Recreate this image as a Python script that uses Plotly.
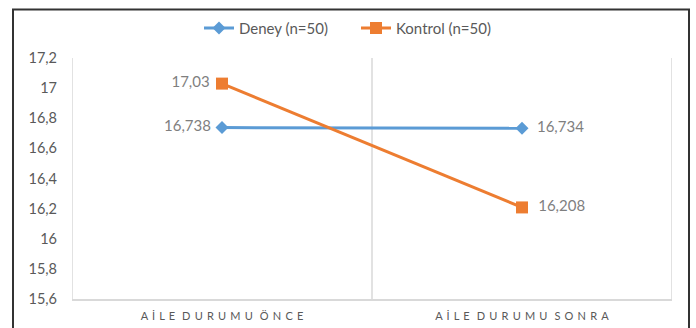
import plotly.graph_objects as go

categories = ["AİLE DURUMU ÖNCE", "AİLE DURUMU SONRA"]
deney = [16.738, 16.734]
kontrol = [17.03, 16.208]
y_ticks = [15.6, 15.8, 16.0, 16.2, 16.4, 16.6, 16.8, 17.0, 17.2]

FONT = "Lato, 'Open Sans', sans-serif"
GREY_TXT = "#595959"
LABEL_TXT = "#7F7F7F"
GRID = "#D9D9D9"
BLUE = "#5B9BD5"
ORANGE = "#ED7D31"
NBSP = "\u00a0"
THIN = "\u2009"


def fmt(v):
    return f"{v:g}".replace(".", ",")


def spaced(s):
    # wide letter spacing for the category labels
    letter_gap = NBSP + THIN
    word_gap = NBSP * 2 + THIN
    return word_gap.join(letter_gap.join(word) for word in s.split(" "))


def point_labels(vals):
    # left point labelled on its left, right point on its right
    return [fmt(vals[0]) + NBSP, NBSP * 2 + fmt(vals[1])]


fig = go.Figure()
fig.add_trace(go.Scatter(
    x=categories, y=deney, name="Deney (n=50)", mode="lines+markers+text",
    line=dict(color=BLUE, width=3),
    marker=dict(symbol="diamond", size=10, color=BLUE),
    text=point_labels(deney), textposition=["middle left", "middle right"],
    textfont=dict(family=FONT, size=15, color=LABEL_TXT),
    cliponaxis=False,
))
fig.add_trace(go.Scatter(
    x=categories, y=kontrol, name="Kontrol (n=50)", mode="lines+markers+text",
    line=dict(color=ORANGE, width=3),
    marker=dict(symbol="square", size=12, color=ORANGE),
    text=point_labels(kontrol), textposition=["middle left", "middle right"],
    textfont=dict(family=FONT, size=15, color=LABEL_TXT),
    cliponaxis=False,
))

# category boundary lines
for xv in [-0.5, 0.5, 1.5]:
    fig.add_shape(type="line", xref="x", yref="y", x0=xv, x1=xv, y0=15.6, y1=17.2,
                  line=dict(color=GRID, width=1.5), layer="below")

# outer chart frame
fig.add_shape(type="rect", xref="paper", yref="paper",
              x0=(13 - 72) / 600, x1=(689 - 72) / 600,
              y0=-0.3, y1=1 + (56 - 7) / 243,
              line=dict(color="#333333", width=2), fillcolor="rgba(0,0,0,0)")

fig.update_layout(
    width=696, height=328,
    margin=dict(l=72, r=24, t=56, b=29),
    paper_bgcolor="white", plot_bgcolor="white",
    separators=", ",
    showlegend=True,
    legend=dict(orientation="h", xanchor="center", yanchor="middle",
                x=(356 - 72) / 600, y=1 + (56 - 26) / 243,
                font=dict(family=FONT, size=15, color=GREY_TXT),
                itemwidth=30, entrywidth=112, bgcolor="rgba(0,0,0,0)"),
    xaxis=dict(
        range=[-0.5, 1.5], tickmode="array", tickvals=categories,
        ticktext=[spaced(c) for c in categories],
        tickfont=dict(family=FONT, size=11, color=GREY_TXT),
        showgrid=False, showline=True, linecolor=GRID, linewidth=1.5,
        ticks="", zeroline=False, ticklabelstandoff=6, automargin=False,
    ),
    yaxis=dict(
        range=[15.6, 17.2], tickmode="array", tickvals=y_ticks,
        ticktext=[fmt(round(v, 1)) for v in y_ticks],
        tickfont=dict(family=FONT, size=14.5, color=GREY_TXT),
        showgrid=False, showline=False, zeroline=False, ticks="",
        ticklabelstandoff=14, automargin=False,
    ),
)

fig.write_html("out.html")
